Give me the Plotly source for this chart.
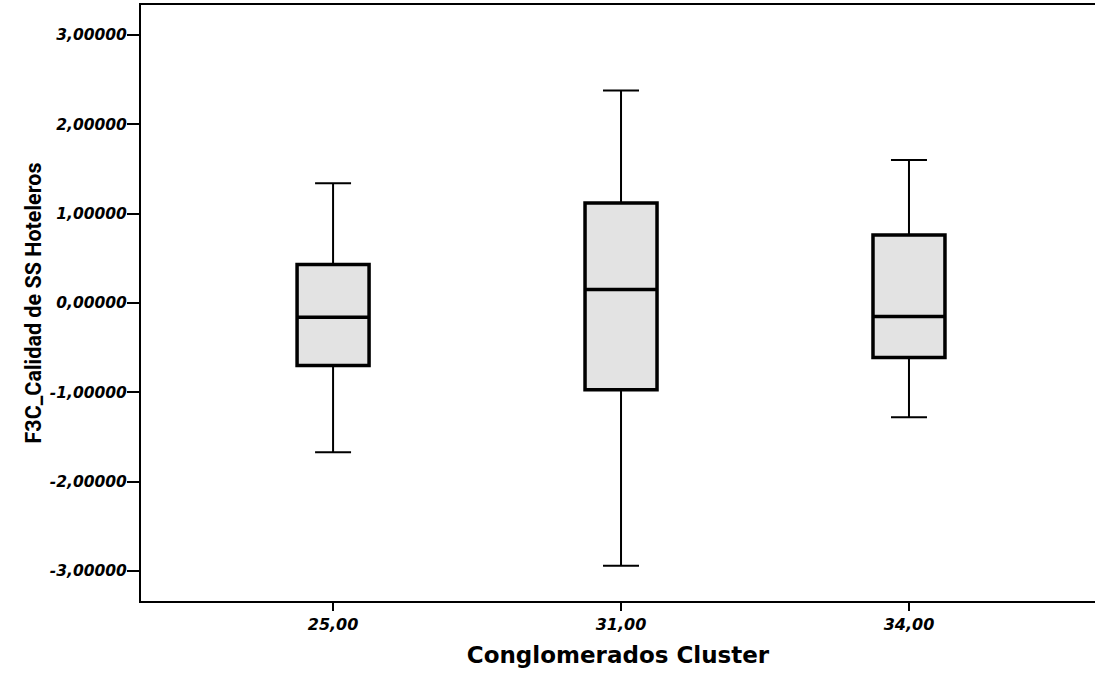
import plotly.graph_objects as go

categories = ["25,00", "31,00", "34,00"]
x_pos = [0, 1, 2]
lower_whisker = [-1.67, -2.94, -1.28]
q1 = [-0.70, -0.97, -0.61]
median = [-0.16, 0.15, -0.15]
q3 = [0.43, 1.12, 0.76]
upper_whisker = [1.34, 2.38, 1.60]

y_ticks = [-3, -2, -1, 0, 1, 2, 3]
y_ticklabels = ["-3,00000", "-2,00000", "-1,00000", "0,00000", "1,00000", "2,00000", "3,00000"]

fig = go.Figure()

# whiskers (thinner line)
fig.add_trace(go.Box(
    x=x_pos, q1=q1, median=median, q3=q3,
    lowerfence=lower_whisker, upperfence=upper_whisker,
    width=0.25, whiskerwidth=0.5,
    fillcolor="#e3e3e3", line=dict(color="black", width=2),
    boxpoints=False, hoverinfo="skip", showlegend=False,
))
# boxes (thicker line)
fig.add_trace(go.Box(
    x=x_pos, q1=q1, median=median, q3=q3,
    lowerfence=q1, upperfence=q3,
    width=0.25, whiskerwidth=0,
    fillcolor="#e3e3e3", line=dict(color="black", width=3.5),
    boxpoints=False, showlegend=False,
))

fig.update_layout(
    width=1095, height=673,
    margin=dict(l=141, r=0, t=5, b=72),
    paper_bgcolor="white", plot_bgcolor="white",
    showlegend=False,
    xaxis=dict(
        range=[-0.667, 2.646], tickmode="array", tickvals=x_pos, ticktext=categories,
        showline=True, linecolor="black", linewidth=2, mirror=True,
        ticks="outside", ticklen=8, tickwidth=2, tickcolor="black",
        showgrid=False, zeroline=False,
        tickfont=dict(family="DejaVu Sans", size=16, color="black", weight="bold", style="italic"),
        title=dict(text="Conglomerados Cluster",
                   font=dict(family="DejaVu Sans", size=23, color="black", weight="bold"),
                   standoff=14),
    ),
    yaxis=dict(
        range=[-3.336, 3.336], tickmode="array", tickvals=y_ticks, ticktext=y_ticklabels,
        showline=True, linecolor="black", linewidth=2,
        ticks="outside", ticklen=12, tickwidth=2, tickcolor="black",
        ticklabelstandoff=-3,
        showgrid=False, zeroline=False,
        tickfont=dict(family="DejaVu Sans", size=15.5, color="black", weight="bold", style="italic"),
        title=dict(text="F3C_Calidad de SS Hoteleros",
                   font=dict(family="Roboto", size=21.5, color="black", weight="bold"),
                   standoff=2),
    ),
)

fig.write_html("out.html", config={"displayModeBar": False},
               post_script="document.body.style.margin='0px';")
